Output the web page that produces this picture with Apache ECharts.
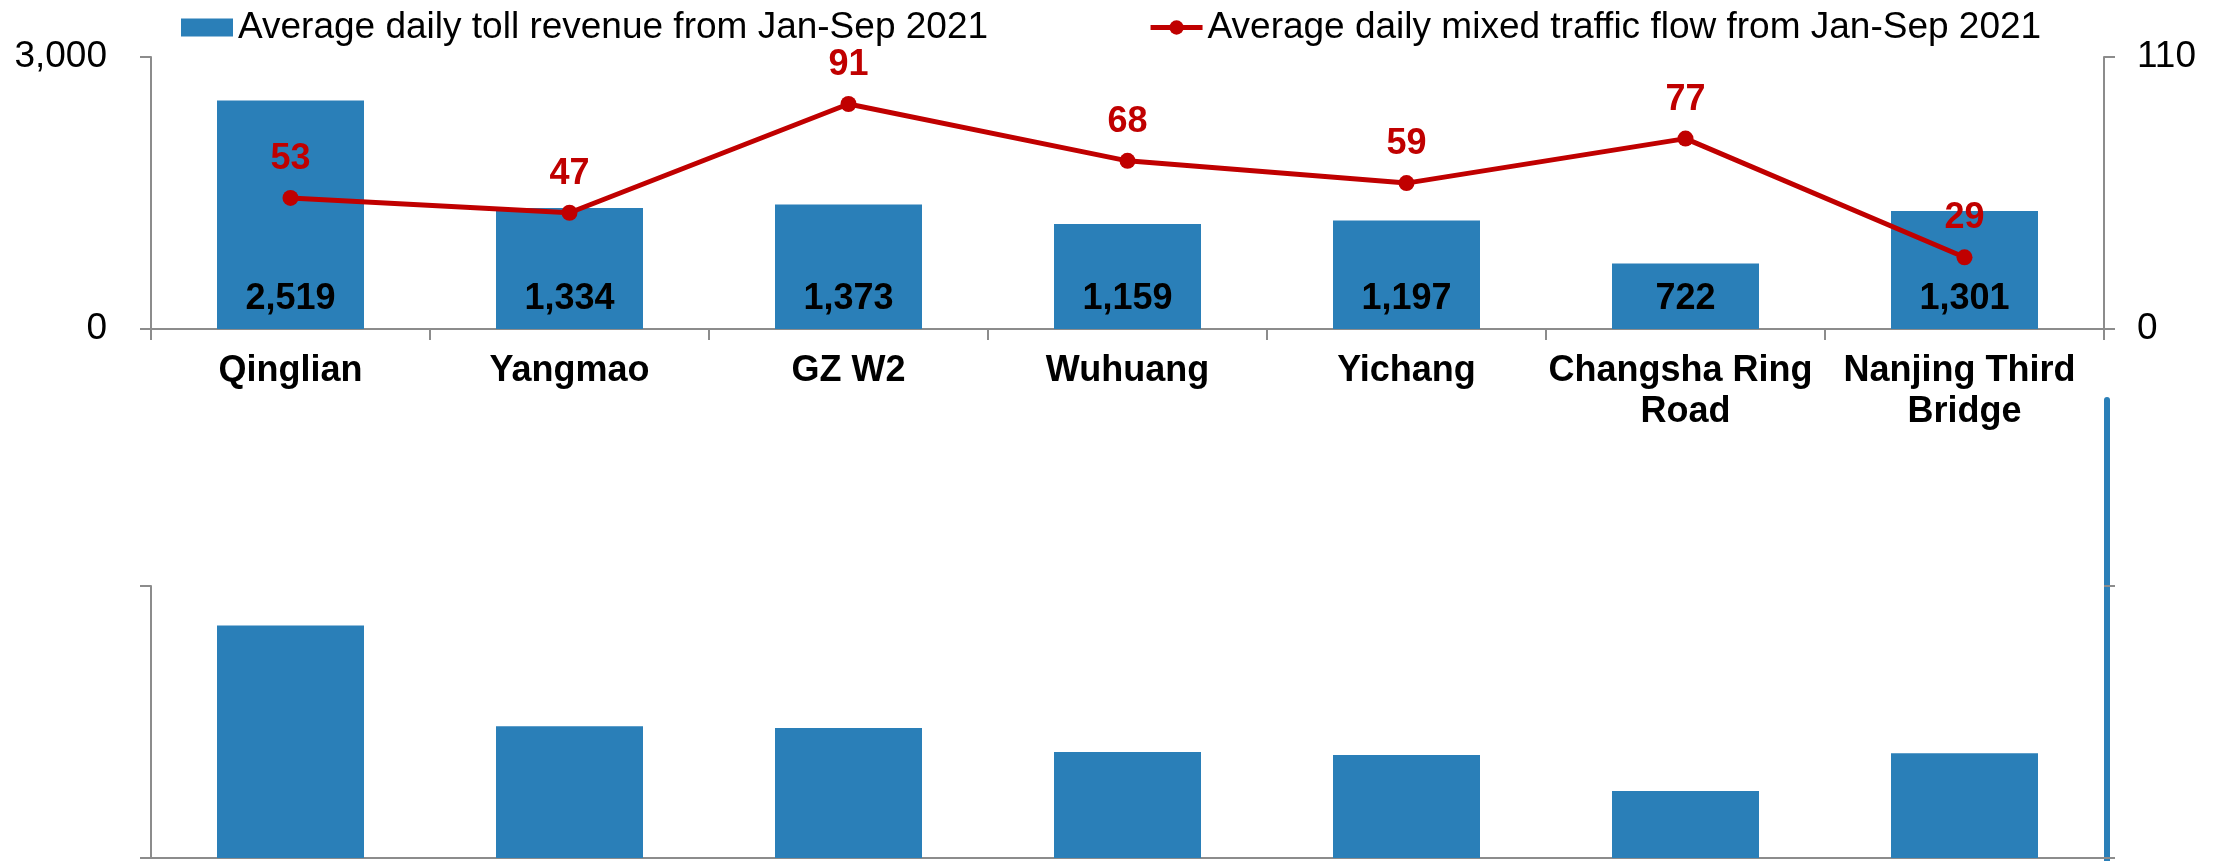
<!DOCTYPE html>
<html>
<head>
<meta charset="utf-8">
<script src="https://cdn.jsdelivr.net/npm/echarts@6/dist/echarts.min.js"></script>
<style>
html,body{margin:0;padding:0;background:#fff;}
#c{width:2229px;height:861px;}
</style>
</head>
<body>
<div id="c"></div>
<script>
const categories = ['Qinglian','Yangmao','GZ W2','Wuhuang','Yichang','Changsha Ring Road','Nanjing Third Bridge'];
const revenue = [2519, 1334, 1373, 1159, 1197, 722, 1301];
const traffic = [53, 47, 91, 68, 59, 77, 29];
const lowerBars = [2564, 1452, 1435, 1169, 1136, 739, 1154];
const revenueName = 'Average daily toll revenue from Jan-Sep 2021';
const trafficName = 'Average daily mixed traffic flow from Jan-Sep 2021';
const leftTicks = [0, 3000];
const rightTicks = [0, 110];

const FONT = "'Liberation Sans', Arial, sans-serif";
const BLUE = '#2A7FB8';
const RED = '#C00000';
const AX = {lineStyle:{color:'#8c8c8c', width:2}};
const fmt = v => Number(v).toLocaleString('en-US');

const chart = echarts.init(document.getElementById('c'), null, {renderer:'canvas'});
chart.setOption({
  animation:false,
  backgroundColor:'#ffffff',
  textStyle:{fontFamily:FONT},
  legend:{
    left:176, top:4, itemWidth:52, itemHeight:18, itemGap:160,
    data:[
      {name:revenueName, icon:'rect'},
      {name:trafficName, itemStyle:{color:RED}, lineStyle:{color:RED, width:5}}
    ],
    textStyle:{fontSize:37, color:'#000', fontFamily:FONT}
  },
  grid:[
    {left:151, right:125, top:57, bottom:532},
    {left:151, right:125, top:586, bottom:3},
    {left:1900, right:122, top:400, bottom:0}
  ],
  xAxis:[
    {type:'category', gridIndex:0, data:categories,
     axisLine:AX, axisTick:{show:true, length:11, lineStyle:{color:'#8c8c8c', width:2}},
     axisLabel:{interval:0, margin:22, fontSize:36, fontWeight:'bold', color:'#000', fontFamily:FONT,
       width:276, overflow:'break', lineHeight:41}},
    {type:'category', gridIndex:1, data:categories,
     axisLine:AX, axisTick:{show:false},
     axisLabel:{show:false}},
    {type:'category', gridIndex:2, data:[''], show:false}
  ],
  yAxis:[
    {type:'value', gridIndex:0, min:leftTicks[0], max:leftTicks[1], interval:3000,
     axisLine:{show:true, lineStyle:{color:'#8c8c8c', width:2}},
     axisTick:{show:true, length:11, lineStyle:{color:'#8c8c8c', width:2}},
     splitLine:{show:false},
     axisLabel:{fontSize:37, color:'#000', margin:44, fontFamily:FONT, formatter:fmt}},
    {type:'value', gridIndex:0, position:'right', min:rightTicks[0], max:rightTicks[1], interval:110,
     axisLine:{show:true, lineStyle:{color:'#8c8c8c', width:2}},
     axisTick:{show:true, length:11, lineStyle:{color:'#8c8c8c', width:2}},
     splitLine:{show:false},
     axisLabel:{fontSize:37, color:'#000', margin:33, fontFamily:FONT}},
    {type:'value', gridIndex:1, min:0, max:3000, interval:3000,
     axisLine:{show:true, lineStyle:{color:'#8c8c8c', width:2}},
     axisTick:{show:true, length:11, lineStyle:{color:'#8c8c8c', width:2}},
     splitLine:{show:false}, axisLabel:{show:false}},
    {type:'value', gridIndex:1, position:'right', min:0, max:110, interval:110,
     axisLine:{show:false},
     axisTick:{show:true, length:11, lineStyle:{color:'#8c8c8c', width:2}},
     splitLine:{show:false}, axisLabel:{show:false}},
    {type:'value', gridIndex:2, position:'right', min:0, max:1,
     axisLine:{show:true, lineStyle:{color:BLUE, width:6}},
     axisTick:{show:false}, splitLine:{show:false}, axisLabel:{show:false}}
  ],
  series:[
    {name:revenueName, type:'bar', xAxisIndex:0, yAxisIndex:0, data:revenue,
     barWidth:147, itemStyle:{color:BLUE},
     label:{show:true, position:'insideBottom', distance:12, fontSize:36, fontWeight:'bold',
       color:'#000', fontFamily:FONT, formatter:p=>fmt(p.value)}},
    {name:trafficName, type:'line', xAxisIndex:0, yAxisIndex:1, data:traffic,
     symbol:'circle', symbolSize:16, lineStyle:{color:RED, width:5}, itemStyle:{color:RED},
     label:{show:true, position:'top', distance:13, fontSize:36, fontWeight:'bold',
       color:RED, fontFamily:FONT}},
    {name:'Lower panel', type:'bar', xAxisIndex:1, yAxisIndex:2, data:lowerBars,
     barWidth:147, itemStyle:{color:BLUE}}
  ]
});
</script>
</body>
</html>
